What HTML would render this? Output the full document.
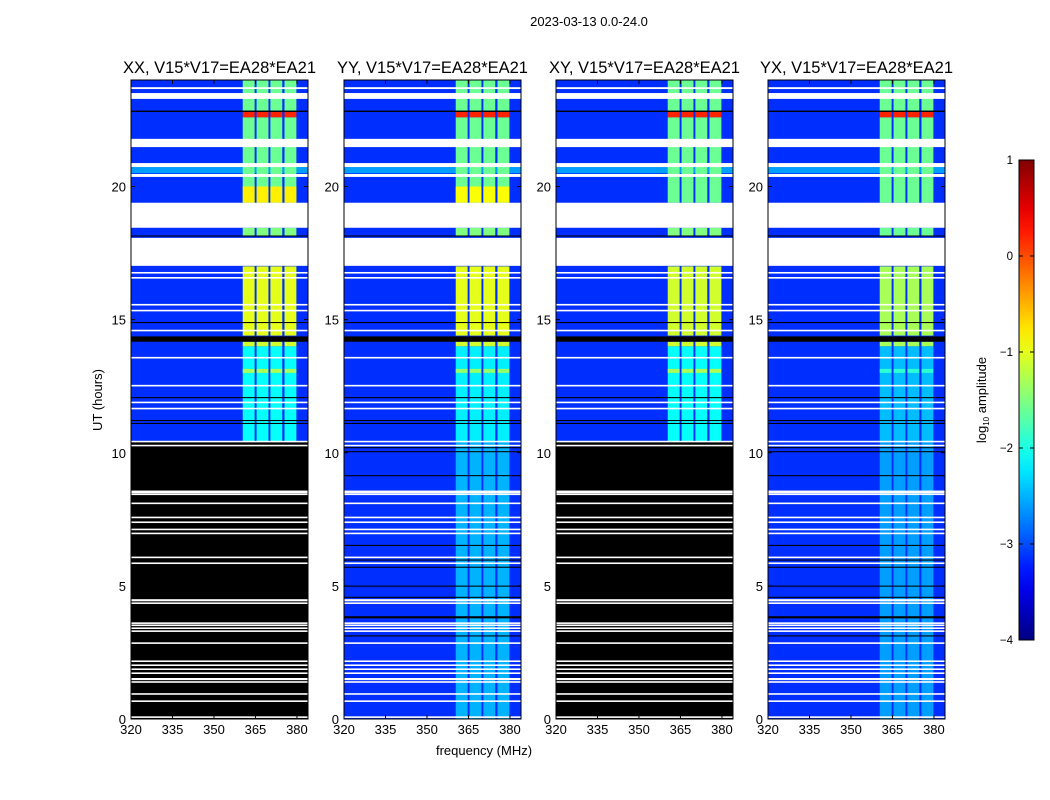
<!DOCTYPE html>
<html><head><meta charset="utf-8"><style>
html,body{margin:0;padding:0;background:#fff;}
svg{display:block;font-family:"Liberation Sans",sans-serif;}
</style></head><body>
<svg id="fig" width="1050" height="800" viewBox="0 0 1050 800">
<text x="589" y="26" font-size="13" text-anchor="middle">2023-03-13 0.0-24.0</text>
<text x="484" y="755" font-size="13" text-anchor="middle">frequency (MHz)</text>
<text transform="translate(102,400) rotate(-90)" font-size="13" text-anchor="middle">UT (hours)</text>
<g id="panels"></g>
<g id="cbar"></g>
</svg>
<script>
// ---- data ----
const panelTitles = ["XX, V15*V17=EA28*EA21","YY, V15*V17=EA28*EA21","XY, V15*V17=EA28*EA21","YX, V15*V17=EA28*EA21"];
const panelLefts = [131, 344, 556, 768];
const xTicks = [320,335,350,365,380];
const yTicks = [0,5,10,15,20];
const cbTicks = [1,0,-1,-2,-3,-4];
const freqRange = [320, 384];
const timeRange = [0, 24];
const bandEdges = [[360.4,364.7],[365.4,369.7],[370.4,374.7],[375.5,379.8]];
const bgSegments = [[0,24,-3.15],[20.5,20.73,-2.6]];
const bandLevelsP1 = [[10.4,14.0,-2.1],[14.0,14.17,-1.1],[13.0,13.15,-1.3],[14.4,17.0,-1.0],[18.15,18.45,-1.5],[19.39,22.6,-1.6],[19.39,20.0,-0.8],[22.6,22.8,0.2],[22.85,24,-1.6]];
const bandLevelsP2 = [[0,10.4,-2.5],[10.4,14.0,-2.2],[14.0,14.17,-1.1],[13.0,13.15,-1.4],[14.4,17.0,-1.0],[18.15,18.45,-1.5],[19.39,22.6,-1.6],[19.39,20.0,-0.9],[22.6,22.8,0.2],[22.85,24,-1.6]];
const bandLevelsP3 = [[10.4,14.0,-2.1],[14.0,14.17,-1.1],[13.0,13.15,-1.3],[14.4,17.0,-1.1],[18.15,18.45,-1.5],[19.39,22.6,-1.6],[22.6,22.8,0.2],[22.85,24,-1.6]];
const bandLevelsP4 = [[0,10.4,-2.6],[10.4,14.0,-2.45],[14.0,14.17,-1.3],[13.0,13.15,-1.9],[14.4,17.0,-1.3],[18.15,18.45,-1.6],[19.39,22.6,-1.6],[22.6,22.8,0.2],[22.85,24,-1.6]];
const panelBands = [bandLevelsP1,bandLevelsP2,bandLevelsP3,bandLevelsP4];
const blackoutBelow = [10.4, null, 10.4, null];
const whiteFlags = [[23.66,23.73],[23.29,23.51],[21.48,21.79],[20.73,20.88],[20.36,20.47],[18.45,19.39],[17.02,18.07],
 [16.73,16.79],[16.54,16.6],[15.53,15.59],[15.31,15.37],[14.56,14.62],[13.54,13.6],[12.49,12.55],[11.86,11.92],[11.63,11.69],[10.39,10.45],[10.24,10.3],
 [8.52,8.58],[8.48,8.53],[8.41,8.47],[8.07,8.13],[7.54,7.6],[7.36,7.42],[7.09,7.15],[6.94,7.0],[6.04,6.1],[5.82,5.88],[4.42,4.5],[4.32,4.38],
 [3.57,3.63],[3.49,3.55],[3.38,3.44],[3.27,3.33],[2.82,2.88],[2.14,2.2],[1.99,2.05],[1.84,1.9],[1.69,1.75],[1.46,1.54],[1.36,1.42],[0.91,0.97],[0.64,0.7],[0.04,0.1]];
const blackFlags = [[22.8,22.85],[18.12,18.16],[14.87,14.91],[14.17,14.37],[12.05,12.09],[11.19,11.23],[11.08,11.12],
 [10.17,10.21],[10.02,10.06],[9.12,9.16],[6.5,6.54],[5.95,5.99],[5.68,5.72],[4.97,5.01],[4.55,4.59],[3.78,3.86],[3.1,3.14],[2.0,2.04]];
// ---- scales ----
const PW = 177, PT = 80, PB = 719;
function xs(f, left){ return left + (f - freqRange[0]) / (freqRange[1]-freqRange[0]) * PW; }
function ys(t){ return PB - (t - timeRange[0]) / (timeRange[1]-timeRange[0]) * (PB-PT); }
function jet(v){
  let t = Math.max(0, Math.min(1, (v+4)/5));
  const c = x => Math.round(255*Math.max(0, Math.min(1, x)));
  return `rgb(${c(1.5-Math.abs(4*t-3))},${c(1.5-Math.abs(4*t-2))},${c(1.5-Math.abs(4*t-1))})`;
}
const NS = "http://www.w3.org/2000/svg";
function mk(tag, attrs, parent){ const e = document.createElementNS(NS, tag); for (const k in attrs) e.setAttribute(k, attrs[k]); parent.appendChild(e); return e; }
const panelsG = document.getElementById('panels');
panelTitles.forEach((title, p) => {
  const L = panelLefts[p];
  const g = mk('g', {}, panelsG);
  
  
  bgSegments.forEach(s => {
    const r = mk('rect', {x:L, y:ys(s[1]), width:PW, height:ys(s[0])-ys(s[1]), fill:jet(s[2])}, g);
    
    
  });
  panelBands[p].forEach(s => {
    bandEdges.forEach(b => {
      const r = mk('rect', {x:xs(b[0],L), y:ys(s[1]), width:xs(b[1],L)-xs(b[0],L), height:ys(s[0])-ys(s[1]), fill:jet(s[2])}, g);
      
      
    });
  });
  if (blackoutBelow[p] !== null) {
    const r = mk('rect', {x:L, y:ys(blackoutBelow[p]), width:PW, height:ys(0)-ys(blackoutBelow[p]), fill:'#000'}, g);
    
    
  }
  blackFlags.forEach(s => {
    if (blackoutBelow[p] !== null && s[1] < blackoutBelow[p]) return;
    const r = mk('rect', {x:L, y:ys(s[1]), width:PW, height:Math.max(1, ys(s[0])-ys(s[1])), fill:'#000'}, g);
    
    
  });
  whiteFlags.forEach(s => {
    const r = mk('rect', {x:L, y:ys(s[1]), width:PW, height:Math.max(1.2, ys(s[0])-ys(s[1])), fill:'#fff'}, g);
    
    
  });
  const fr = mk('rect', {x:L, y:PT, width:PW, height:PB-PT, fill:'none', stroke:'#000', 'stroke-width':1}, g);
  
  
  const tt = mk('text', {x:L+PW/2, y:PT-7, 'font-size':16.5, 'text-anchor':'middle'}, g);
  tt.textContent = title;
  
  
  xTicks.forEach(f => {
    const x = xs(f, L);
    mk('line', {x1:x, x2:x, y1:PB, y2:PB-4, stroke:'#000'}, g);
    mk('line', {x1:x, x2:x, y1:PT, y2:PT+4, stroke:'#000'}, g);
    const t = mk('text', {x:x, y:PB+15, 'font-size':13, 'text-anchor':'middle'}, g);
    t.textContent = f;
    
    
  });
  yTicks.forEach(v => {
    const y = ys(v);
    mk('line', {x1:L, x2:L+4, y1:y, y2:y, stroke:'#000'}, g);
    mk('line', {x1:L+PW, x2:L+PW-4, y1:y, y2:y, stroke:'#000'}, g);
    const t = mk('text', {x:L-5, y:y+5, 'font-size':13, 'text-anchor':'end'}, g);
    t.textContent = v;
    
    
  });
});
// colorbar
const cb = document.getElementById('cbar');
const CX = 1019, CW = 15, CT = 160, CB = 640;
function cys(v){ return CB - (v - (-4)) / 5 * (CB-CT); }
const defs = mk('defs', {}, cb);
const grad = mk('linearGradient', {id:'jetg', x1:0, y1:1, x2:0, y2:0}, defs);
for (let i = 0; i <= 20; i++) mk('stop', {offset:(i/20), 'stop-color':jet(-4 + 5*i/20)}, grad);
const cr = mk('rect', {x:CX, y:CT, width:CW, height:CB-CT, fill:'url(#jetg)', stroke:'#000', 'stroke-width':1}, cb);


cbTicks.forEach(v => {
  const y = cys(v);
  mk('line', {x1:CX, x2:CX+4, y1:y, y2:y, stroke:'#000'}, cb);
  mk('line', {x1:CX+CW, x2:CX+CW-4, y1:y, y2:y, stroke:'#000'}, cb);
  const t = mk('text', {x:CX-6, y:y+4, 'font-size':11.5, 'text-anchor':'end'}, cb);
  t.textContent = v < 0 ? '\u2212' + (-v) : String(v);
  
  
});
const cl = mk('text', {transform:'translate(986,400) rotate(-90)', 'font-size':13, 'text-anchor':'middle'}, cb);
cl.innerHTML = 'log<tspan font-size="8" dy="3">10</tspan><tspan dy="-3"> amplitude</tspan>';


</script>
</body></html>
